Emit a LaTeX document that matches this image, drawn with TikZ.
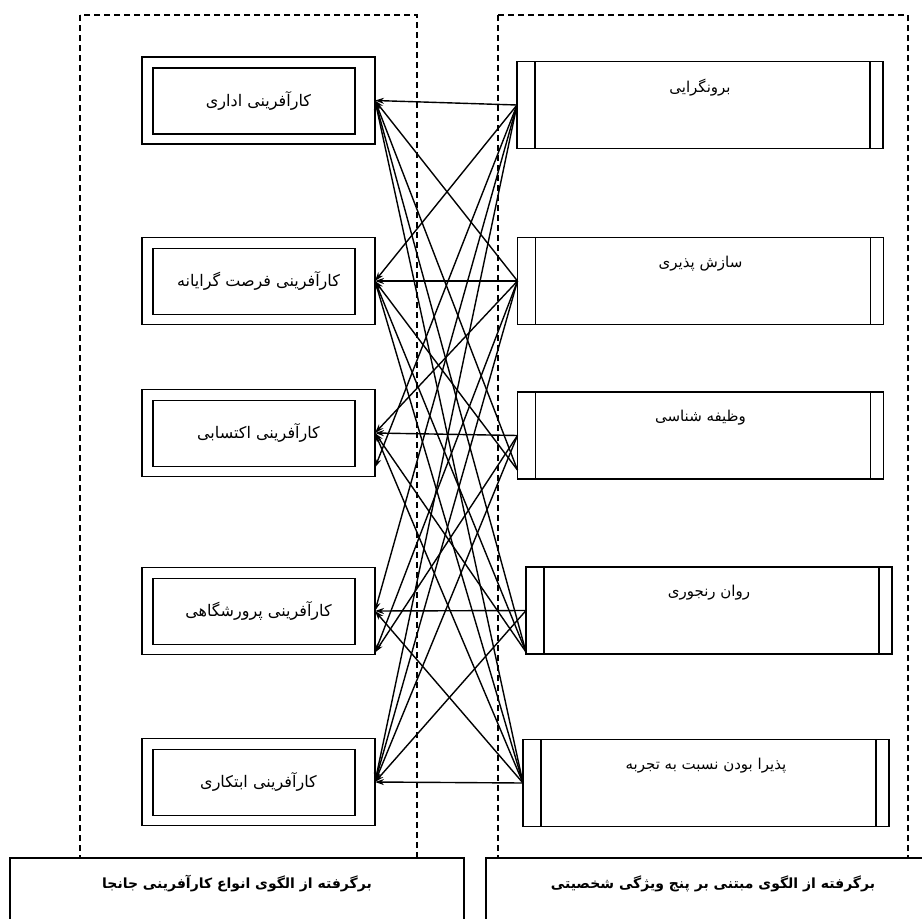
\documentclass[tikz,border=0pt]{standalone}
\usepackage{fontspec}
\usetikzlibrary{arrows.meta,calc}
\newfontfamily\farsi[Script=Arabic]{DejaVu Sans}
\TeXXeTstate=1
\newcommand{\pers}[1]{{\farsi\beginR #1\endR}}

\begin{document}
\begin{tikzpicture}[x=1pt,y=-1pt,
  every node/.style={inner sep=0pt,outer sep=0pt},
  typebox/.style={draw,line width=1.8pt,minimum width=233pt,minimum height=87pt,font=\fontsize{16}{19}\selectfont},
  traitbox/.style={draw,line width=1.8pt,minimum width=366pt,minimum height=87pt},
  traittext/.style={font=\fontsize{15}{18}\selectfont},
  notebox/.style={draw,line width=1.8pt,anchor=north west,minimum width=454pt,minimum height=90pt},
  notetext/.style={font=\fontsize{14}{17}\selectfont\bfseries},
  link/.style={-{Stealth[length=9pt,width=6pt]},line width=1.4pt},
  frame/.style={dash pattern=on 6pt off 4pt,line width=1.1pt}]
  \useasboundingbox (0,0) rectangle (922,919);
  \clip (0,0) rectangle (922,919);

  % dashed groups
  \draw[frame] (80,15) rectangle (417,858);
  \draw[frame] (498,15) rectangle (908,858);

  % entrepreneurship types (left)
  \node[typebox] (L1) at (258.5,100.5) {\pers{کارآفرینی اداری}};
  \node[typebox] (L2) at (258.5,281) {\pers{کارآفرینی فرصت گرایانه}};
  \node[typebox] (L3) at (258.5,433) {\pers{کارآفرینی اکتسابی}};
  \node[typebox] (L4) at (258.5,611) {\pers{کارآفرینی پرورشگاهی}};
  \node[typebox] (L5) at (258.5,782) {\pers{کارآفرینی ابتکاری}};
  \foreach \n in {L1,L2,L3,L4,L5}
    \draw[line width=1.8pt] ($(\n.north west)+(11,11)$) rectangle ($(\n.south east)+(-20,-10)$);

  % personality traits (right)
  \node[traitbox] (R1) at (700,105) {};
  \node[traitbox] (R2) at (700.5,281) {};
  \node[traitbox] (R3) at (700.5,435.5) {};
  \node[traitbox] (R4) at (709,610.5) {};
  \node[traitbox] (R5) at (706,783) {};
  \foreach \n in {R1,R2,R3,R4,R5} {
    \draw[line width=1.8pt] ([xshift=18pt]\n.north west) -- ([xshift=18pt]\n.south west);
    \draw[line width=1.8pt] ([xshift=-13pt]\n.north east) -- ([xshift=-13pt]\n.south east);
  }
  \node[traittext] (t1) at ([yshift=-26pt]R1.north) {\pers{برونگرایی}};
  \node[traittext] (t2) at ([yshift=-26pt]R2.north) {\pers{سازش پذیری}};
  \node[traittext] (t3) at ([yshift=-26pt]R3.north) {\pers{وظیفه شناسی}};
  \node[traittext] (t4) at ([yshift=-26pt]R4.north) {\pers{روان رنجوری}};
  \node[traittext] (t5) at ([yshift=-26pt]R5.north) {\pers{پذیرا بودن نسبت به تجربه}};

  % source notes
  \node[notebox] (B1) at (10,858) {};
  \node[notebox] (B2) at (486,858) {};
  \node[notetext] at ([yshift=-26pt]B1.north) {\pers{برگرفته از الگوی انواع کارآفرینی جانجا}};
  \node[notetext] at ([yshift=-26pt]B2.north) {\pers{برگرفته از الگوی مبتنی بر پنج ویژگی شخصیتی}};

  % links
  \coordinate (a3) at ($(L3.south east)+(0,-9)$);
  \coordinate (a4) at ($(L4.south east)+(0,-2)$);
  \coordinate (b3) at ($(R3.south west)+(0,-9)$);
  \coordinate (b4) at ($(R4.south west)+(0,-2)$);
  \foreach \s/\e in {R1.west/L1.east, R1.west/L2.east, R1.west/a3, R1.west/L4.east, R1.west/L5.east,
                     R2.west/L1.east, R2.west/L2.east, R2.west/L3.east, R2.west/a4, R2.west/L5.east,
                     b3/L1.east, b3/L2.east, R3.west/L3.east, R3.west/a4, R3.west/L5.east,
                     b4/L1.east, b4/L2.east, b4/L3.east, R4.west/L4.east, R4.west/L5.east,
                     R5.west/L1.east, R5.west/L2.east, R5.west/L3.east, R5.west/L4.east, R5.west/L5.east}
    \draw[link] (\s) -- (\e);
\end{tikzpicture}
\end{document}
